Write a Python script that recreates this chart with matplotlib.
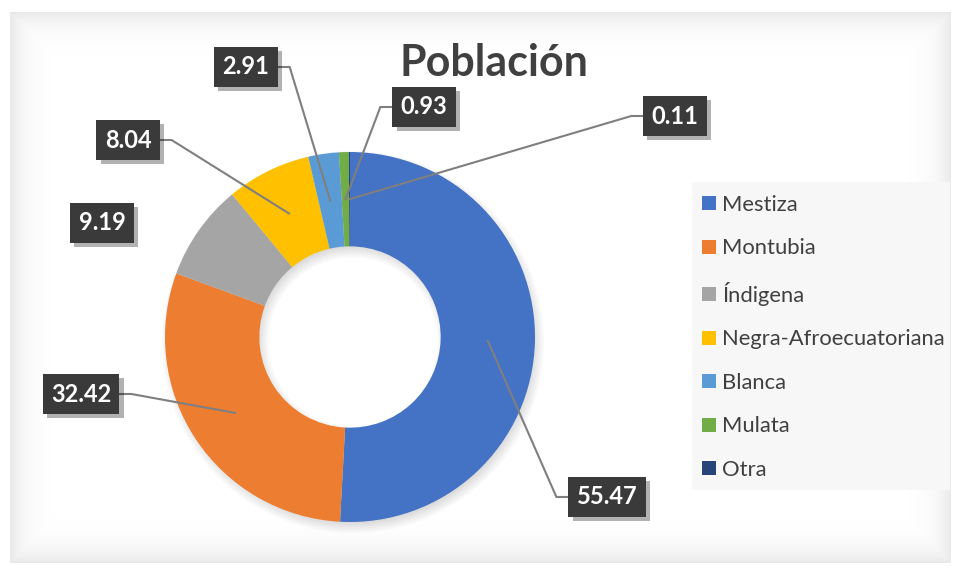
import numpy as np
import matplotlib.pyplot as plt
from matplotlib.patches import Rectangle, Wedge
import matplotlib.patheffects as pe

plt.rcParams['font.family'] = ['Lato', 'DejaVu Sans']

# datos
categorias = ['Mestiza', 'Montubia', 'Índigena', 'Negra-Afroecuatoriana',
              'Blanca', 'Mulata', 'Otra']
valores = [55.47, 32.42, 9.19, 8.04, 2.91, 0.93, 0.11]
colores = ['#4472C4', '#ED7D31', '#A5A5A5', '#FFC000', '#5B9BD5', '#70AD47', '#264478']

# centro de cada etiqueta (px desde arriba-izquierda) y si lleva linea guia
pos_etiq = [(607, 497), (81, 394), (102, 223), (128, 140), (246, 67), (424, 107), (675, 116)]
con_linea = [True, True, False, True, True, True, True]

W, H = 960, 574
fig = plt.figure(figsize=(9.6, 5.74), dpi=100)
ax = fig.add_axes([0, 0, 1, 1])

# fondo: panel blanco con sombra interior suave
yy, xx = np.mgrid[0:H, 0:W]
x0, x1, y0, y1 = 10, 950, 12, 562
d = np.minimum.reduce([xx - x0, x1 - xx, yy - y0, y1 - yy]).astype(float)
fondo = np.where(d < 0, 1.0, 1.0 - 0.09 * np.exp(-d / 14.0))
ax.imshow(fondo, cmap='gray', vmin=0, vmax=1, extent=(0, W, 0, H),
          origin='upper', zorder=0, interpolation='bilinear')

# dona
R = 185
cx, cy = 350, H - 337
ancho = 0.51

# sombra difusa del anillo
for k in range(6):
    ax.add_patch(Wedge((cx + 3, cy - 5), R + 6 - k * 2, 0, 360,
                       width=R * ancho + 12 - k * 4, fc='#000000', ec='none',
                       alpha=0.025, zorder=1))

wedges, _ = ax.pie(valores, colors=colores, startangle=90, counterclock=False,
                   radius=R, center=(cx, cy),
                   wedgeprops=dict(width=R * ancho, edgecolor='none'))
for w in wedges:
    w.set_zorder(2)

ax.set_xlim(0, W)
ax.set_ylim(0, H)
ax.set_aspect('auto')
ax.axis('off')

# titulo
ax.text(494, H - 63, 'Población', ha='center', va='center', fontsize=31,
        fontweight='bold', color='#404040', zorder=5)

# etiquetas
textos = []
for v, (px, py) in zip(valores, pos_etiq):
    t = ax.text(px, H - py, f'{v:.2f}', ha='center', va='center', color='white',
                fontsize=17, fontweight='bold', zorder=6,
                bbox=dict(boxstyle='square,pad=0.35', fc='#3a3a3a', ec='none'))
    t.get_bbox_patch().set_path_effects([
        pe.SimplePatchShadow(offset=(3, -3), shadow_rgbFace='#000000', alpha=0.3),
        pe.Normal()])
    textos.append(t)

fig.canvas.draw()
r_mid = R * (1 - ancho / 2)
for w, t, linea in zip(wedges, textos, con_linea):
    if not linea:
        continue
    ang = np.deg2rad((w.theta1 + w.theta2) / 2)
    axx, ayy = cx + r_mid * np.cos(ang), cy + r_mid * np.sin(ang)
    bb = t.get_bbox_patch().get_window_extent()
    by = (bb.y0 + bb.y1) / 2
    if axx > (bb.x0 + bb.x1) / 2:
        ex, kx = bb.x1, bb.x1 + 12
    else:
        ex, kx = bb.x0, bb.x0 - 12
    ax.plot([axx, kx, ex], [ayy, by, by], color='#7f7f7f', lw=1.5, zorder=4,
            solid_joinstyle='miter')

# leyenda
ax.add_patch(Rectangle((692, H - 490), 258, 308, fc='#f7f7f7', ec='none', zorder=1))
ax.legend(wedges, categorias, loc='upper left', bbox_to_anchor=(702, H - 195),
          bbox_transform=ax.transData, frameon=False, fontsize=15.8,
          handlelength=0.62, handleheight=0.62, handletextpad=0.3,
          labelspacing=1.07, borderaxespad=0, borderpad=0, labelcolor='#404040')

fig.savefig('out.png', dpi=100)
